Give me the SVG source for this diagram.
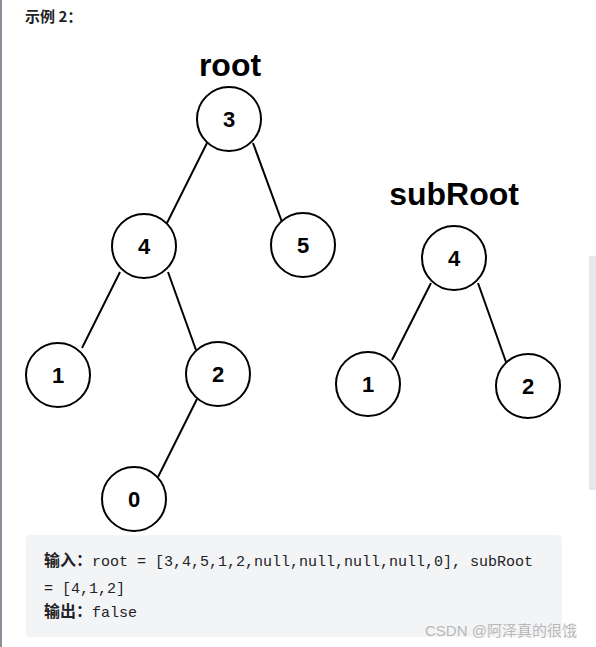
<svg xmlns="http://www.w3.org/2000/svg" width="596" height="647" viewBox="0 0 596 647">
<style>
.n circle{fill:#fff;stroke:#000;stroke-width:2}
.n text{font-family:"Liberation Sans",Arial,sans-serif;font-weight:bold;font-size:22px;text-anchor:middle;fill:#000}
.e line{stroke:#000;stroke-width:2}
.title{font-family:"Liberation Sans",Arial,sans-serif;font-weight:bold;font-size:32px;text-anchor:middle;fill:#000}
.code{font-family:"Liberation Mono","Noto Sans CJK SC",monospace;font-size:15px;fill:#222226}
.cjk{font-family:"Noto Sans CJK SC",sans-serif;font-weight:bold;font-size:16px;fill:#222226}
</style>
<rect width="596" height="647" fill="#fff"/>
<rect x="0" y="0" width="2" height="647" fill="#8a8f99"/>
<rect x="589" y="256" width="7" height="234" fill="#e6e7ea"/>
<text x="25" y="22" class="cjk" style="font-size:15px">示例 2：</text>
<text x="230" y="76" class="title">root</text>
<text x="454" y="205" class="title">subRoot</text>
<g id="edges" class="e">
<line x1="207" y1="143" x2="167" y2="223"/>
<line x1="253" y1="143" x2="282" y2="222"/>
<line x1="120" y1="272" x2="82" y2="348"/>
<line x1="168" y1="272" x2="196" y2="350"/>
<line x1="197" y1="399" x2="158" y2="477"/>
<line x1="431" y1="283" x2="392" y2="360"/>
<line x1="478" y1="283" x2="506" y2="362"/>
</g>
<g id="n3" class="n"><circle cx="229" cy="119" r="32"/><text x="229" y="127">3</text></g>
<g id="n4" class="n"><circle cx="144" cy="246" r="32"/><text x="144" y="254">4</text></g>
<g id="n5" class="n"><circle cx="303" cy="245" r="32"/><text x="303" y="253">5</text></g>
<g id="n1" class="n"><circle cx="58" cy="375" r="32"/><text x="58" y="383">1</text></g>
<g id="n2" class="n"><circle cx="218" cy="374" r="32"/><text x="218" y="382">2</text></g>
<g id="n0" class="n"><circle cx="134" cy="499" r="32"/><text x="134" y="507">0</text></g>
<g id="s4" class="n"><circle cx="454" cy="258" r="32"/><text x="454" y="266">4</text></g>
<g id="s1" class="n"><circle cx="368" cy="384" r="32"/><text x="368" y="392">1</text></g>
<g id="s2" class="n"><circle cx="528" cy="386" r="32"/><text x="528" y="394">2</text></g>
<g id="codebox">
<rect x="26" y="535" width="536" height="102" rx="4" fill="#f3f4f5"/>
<text x="44" y="566"><tspan class="cjk">输入：</tspan><tspan class="code" x="92">root = [3,4,5,1,2,null,null,null,null,0], subRoot</tspan></text>
<text x="44" y="593" class="code">= [4,1,2]</text>
<text x="44" y="617"><tspan class="cjk">输出：</tspan><tspan class="code" x="92">false</tspan></text>
</g>
<text x="425" y="636" style="font-family:'Liberation Sans','Noto Sans CJK SC',sans-serif;font-size:15px;fill:#b8b8b8">CSDN @阿泽真的很饿</text>
</svg>
